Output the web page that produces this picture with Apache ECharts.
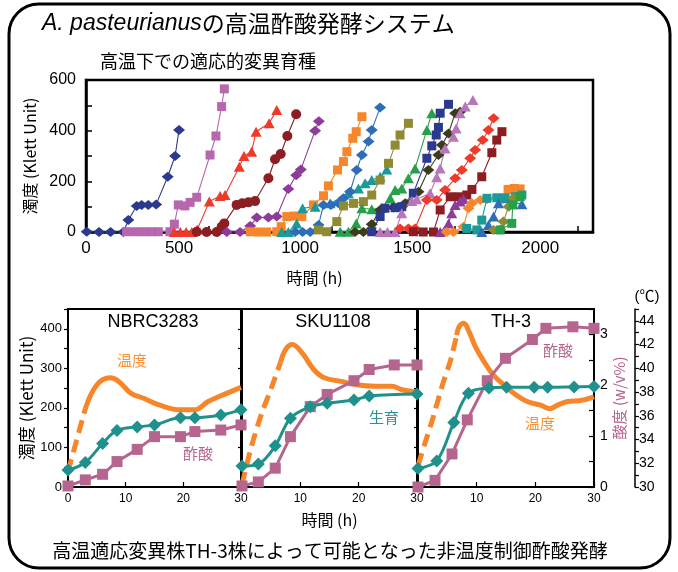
<!DOCTYPE html>
<html><head><meta charset="utf-8">
<script src="https://cdn.jsdelivr.net/npm/echarts/dist/echarts.min.js"></script>
<style>html,body{margin:0;padding:0;background:#fff}#c{width:678px;height:572px}</style>
</head><body><div id="c"></div>
<script>
// ---------- DATA ----------
// top chart: turbidity (Klett Unit) vs time (h) for adaptive mutant breeding lines
const navyDia = [[3,1],[53,0],[100,0],[152,0],[172,47],[206,103],[226,107],[253,107],[285,109],[332,218],[362,300],[378,403]];
const orchidSq = [[165,1],[200,1],[233,1],[265,1],[294,1],[341,1],[359,31],[375,107],[402,103],[423,117],[450,137],[504,304],[528,379],[551,495],[562,565]];
const redTri = [[359,0],[383,0],[407,0],[430,0],[452,10],[501,120],[545,142],[565,146],[623,258],[642,300],[673,317],[691,396],[744,429],[775,482]];
const maroonCirc = [[450,1],[490,0],[531,0],[551,21],[562,34],[612,107],[635,113],[660,117],[687,122],[741,212],[768,287],[791,308],[818,379],[854,465]];
const purpleDia = [[572,0],[626,0],[667,24],[694,57],[741,57],[775,61],[822,170],[854,224],[873,247],[931,400],[946,437]];
const orangeSq = [[667,1],[700,0],[734,0],[775,1],[793,21],[816,61],[845,63],[877,61],[924,107],[965,143],[985,182],[1022,245],[1046,278],[1060,317],[1084,370],[1098,396],[1121,455]];
const tealTri = [[795,0],[822,0],[856,34],[880,94],[931,100],[992,113],[1066,153],[1107,172],[1134,192],[1161,205],[1195,218],[1222,247]];
const blueDia = [[850,0],[880,0],[911,0],[945,28],[965,107],[995,107],[1026,113],[1046,133],[1073,159],[1100,245],[1121,304],[1148,357],[1161,403],[1195,491]];
const oliveSq = [[945,8],[978,1],[1019,41],[1046,103],[1087,113],[1127,120],[1161,146],[1195,205],[1229,271],[1256,343],[1276,383],[1310,429]];
const greenTri = [[1033,1],[1066,1],[1098,34],[1121,94],[1161,90],[1200,95],[1236,133],[1256,166],[1283,172],[1310,212],[1337,251],[1385,403],[1405,469]];
const darkOliveDia = [[1093,0],[1127,0],[1161,31],[1195,87],[1249,97],[1297,113],[1351,159],[1391,245],[1432,304],[1446,343],[1473,389],[1500,469],[1520,475]];
const navySq = [[1161,1],[1195,61],[1215,94],[1256,96],[1283,100],[1330,153],[1385,291],[1405,340],[1423,383],[1432,413],[1439,469],[1473,504]];
const lavenderTri = [[1195,0],[1225,0],[1256,0],[1283,74],[1324,122],[1344,129],[1398,153],[1425,216],[1439,251],[1459,330],[1493,376],[1504,409],[1520,469],[1541,495],[1572,521]];
const redDia = [[1276,14],[1310,14],[1337,14],[1385,126],[1425,126],[1459,166],[1500,212],[1527,245],[1561,291],[1581,324],[1612,363],[1635,403],[1656,449]];
const maroonSq = [[1330,1],[1370,0],[1412,0],[1439,87],[1480,139],[1513,139],[1547,146],[1568,168],[1608,218],[1649,313],[1669,363],[1690,396]];
const purpleTri = [[1439,0],[1473,34],[1486,74],[1500,107],[1520,120],[1534,129]];
const orangeDia = [[1466,0],[1493,0],[1534,21],[1554,94],[1568,113],[1602,126],[1629,129]];
const orangeSq2 = [[1715,168],[1740,172],[1764,170]];
const tealSq = [[1547,14],[1588,8],[1608,47],[1629,133],[1669,135],[1703,135],[1744,139],[1771,146]];
const blueTri = [[1608,0],[1635,28],[1656,61],[1676,113],[1723,120],[1771,110]];
const oliveDia = [[1656,8],[1683,10],[1696,41],[1717,100],[1737,133]];
const greenSq = [[1683,8],[1730,34],[1734,107],[1764,139]];

const topXTicks = [0, 500, 1000, 1500, 2000];
const topYTicks = [0, 200, 400, 600];

// bottom panels: [time h, value]
const panelNames = ['NBRC3283', 'SKU1108', 'TH-3'];
const growthNBRC = [[0,43],[3,62],[6,110],[8.5,143],[12,152],[15,157],[19.5,175],[22,175],[26.5,182],[30,195]];
const acidNBRC = [[0,0.02],[3,0.14],[6,0.25],[8.5,0.5],[12,0.74],[15,0.99],[19.5,0.99],[22,1.09],[26.5,1.12],[30,1.22]];
const tempNBRCramp = [[0,31.3],[3,36.6]];
const tempNBRC = [[3,36.6],[5,38.6],[7.3,39.2],[8.8,38.9],[10.9,37.9],[13,37.5],[15.9,36.9],[19.6,36.5],[21.9,36.5],[24.3,37.2],[26.1,37.6],[30,38.4]];

const growthSKU = [[0,53],[2.8,58],[5.7,104],[8.3,174],[11.7,203],[14.6,212],[19.2,220],[21.8,230],[30,235]];
const acidSKU = [[0,0.02],[2.8,0.1],[5.7,0.37],[8.3,0.99],[11.7,1.58],[14.6,1.82],[19.2,2.09],[21.8,2.31],[26.1,2.4],[30,2.4]];
const tempSKUramp = [[0,30.2],[1.5,33.2],[3.3,36.1],[5,38.3],[6.6,40.5]];
const tempSKU = [[6.6,40.5],[7.5,41.6],[8.6,42.0],[10.3,41.3],[12.3,39.9],[14.1,39.2],[17,38.9],[19.9,38.6],[22.8,38.5],[25.7,38.5],[27.4,38.2],[30,38.0]];

const growthTH3 = [[0,47],[3.2,66],[6.1,163],[8.6,237],[12.1,250],[15.1,252],[19.8,252],[22.1,252],[26.6,253],[30,254]];
const acidTH3 = [[0,0],[2.9,0.13],[5.8,0.65],[8.4,1.32],[11.8,2.09],[14.9,2.53],[19.5,2.9],[21.8,3.12],[26.4,3.15],[30,3.12]];
const tempTH3ramp = [[0,31.8],[1.2,33.7],[2.6,35.9],[4.1,38.5],[5.5,40.6],[6.6,42.8]];
const tempTH3 = [[6.6,42.8],[7.0,43.5],[7.8,43.8],[8.6,43.2],[9.8,41.8],[11.2,40.6],[12.9,39.4],[14.9,38.5],[16.6,37.8],[18.6,37.2],[20.9,36.9],[22.4,36.6],[23.8,36.9],[25.5,37.2],[27.8,37.3],[30,37.6]];

const turbTicks = [0, 100, 200, 300, 400];
const acidTicks = [0, 1, 2, 3];
const tempTicks = [30, 32, 34, 36, 38, 40, 42, 44];

// ---------- STYLE ----------
const FONT = "'Liberation Sans', 'Noto Sans CJK JP', sans-serif";
const JP = "'Noto Sans CJK JP', 'Liberation Sans', sans-serif";
const C = {navy:'#2B3A8F', orchid:'#B767AE', red:'#EE3A2A', maroon:'#8C1D22', purple:'#8E3B9B', orange:'#F7862A',
  teal:'#1C9A98', blue:'#2E6EB8', olive:'#8F8B34', green:'#26A04A', darkOlive:'#3D3B1C', lavender:'#B775BB'};
const SYM = {diamond:['diamond',[12,10]], rect:['rect',[9,9]], triangle:['triangle',[11,10]], circle:['circle',[10,10]]};
const topDefs = [
  [navyDia, C.navy, 'diamond'], [orchidSq, C.orchid, 'rect'], [redTri, C.red, 'triangle'], [maroonCirc, C.maroon, 'circle'],
  [purpleDia, C.purple, 'diamond'], [orangeSq, C.orange, 'rect'], [tealTri, C.teal, 'triangle'], [blueDia, C.blue, 'diamond'],
  [oliveSq, C.olive, 'rect'], [greenTri, C.green, 'triangle'], [darkOliveDia, C.darkOlive, 'diamond'], [navySq, C.navy, 'rect'],
  [lavenderTri, C.lavender, 'triangle'], [redDia, C.red, 'diamond'], [maroonSq, C.maroon, 'rect'], [purpleTri, C.purple, 'triangle'],
  [orangeDia, C.orange, 'diamond'], [orangeSq2, C.orange, 'rect'], [tealSq, C.teal, 'rect'], [blueTri, C.blue, 'triangle'],
  [oliveDia, C.olive, 'diamond'], [greenSq, C.green, 'rect']
];
const GROW = '#1E918D', ACID = '#B5658E', TEMP = '#F7862A';

const series = topDefs.map(([d, col, s]) => ({
  type:'line', xAxisIndex:0, yAxisIndex:0, data:d, symbol:SYM[s][0], symbolSize:SYM[s][1],
  lineStyle:{color:col, width:1.1}, itemStyle:{color:col}, animation:false
}));

const panels = [
  [growthNBRC, acidNBRC, tempNBRCramp, tempNBRC],
  [growthSKU, acidSKU, tempSKUramp, tempSKU],
  [growthTH3, acidTH3, tempTH3ramp, tempTH3]
];
panels.forEach(([g, a, tr, t], i) => {
  const xi = i + 1, yb = 1 + i * 3;
  series.push({type:'line', xAxisIndex:xi, yAxisIndex:yb+2, data:tr, symbol:'none', smooth:0.3,
    lineStyle:{color:TEMP, width:5, type:[13,7]}, animation:false, z:2});
  series.push({type:'line', xAxisIndex:xi, yAxisIndex:yb+2, data:t, symbol:'none', smooth:0.4,
    lineStyle:{color:TEMP, width:5}, animation:false, z:2});
  series.push({type:'line', xAxisIndex:xi, yAxisIndex:yb+1, data:a, symbol:'rect', symbolSize:11,
    lineStyle:{color:ACID, width:3}, itemStyle:{color:ACID}, animation:false, z:3});
  series.push({type:'line', xAxisIndex:xi, yAxisIndex:yb, data:g, symbol:'diamond', symbolSize:[13,13], smooth:0.35,
    lineStyle:{color:GROW, width:3}, itemStyle:{color:GROW}, animation:false, z:4});
});

const gridBox = {show:true, borderColor:'#000', borderWidth:2, backgroundColor:'transparent'};
const grids = [
  Object.assign({left:86, top:80, width:507, height:152}, gridBox, {borderWidth:2.5}),
  Object.assign({left:68, top:309, width:173, height:178}, gridBox),
  Object.assign({left:242, top:309, width:175, height:178}, gridBox),
  Object.assign({left:418, top:309, width:176, height:178}, gridBox)
];

const topLabelShift = {0:0, 500:60, 1000:64, 1500:86, 2000:76};
const xAxes = [{
  gridIndex:0, type:'value', min:0, max:2060, interval:500,
  axisLine:{lineStyle:{color:'#000', width:2.5}}, axisTick:{inside:true, length:6, lineStyle:{color:'#000', width:1.5}},
  splitLine:{show:false},
  axisLabel:{margin:8, color:'#000', fontSize:17, fontFamily:FONT,
    formatter:v => topXTicks.includes(v) ? '{s' + v + '|' + v + '}' : '',
    rich:Object.fromEntries(topXTicks.map(v => ['s' + v, {fontSize:17, fontFamily:FONT, color:'#000', padding:[0, topLabelShift[v], 0, 0]}]))},
  name:'時間 (h)', nameLocation:'middle', nameGap:38,
  nameTextStyle:{fontSize:16, fontFamily:JP, color:'#000', padding:[0, 50, 0, 0]}
}];
for (let i = 0; i < 3; i++) {
  xAxes.push({
    gridIndex:i + 1, type:'value', min:0, max:30, interval:10,
    axisLine:{lineStyle:{color:'#000', width:2}}, axisTick:{inside:true, length:5, lineStyle:{color:'#000', width:1.2}},
    minorTick:{show:false}, splitLine:{show:false},
    axisLabel:{margin:6, color:'#000', fontSize:12, fontFamily:FONT, showMinLabel: i === 0},
    name: i === 1 ? '時間 (h)' : '', nameLocation:'middle', nameGap:25,
    nameTextStyle:{fontSize:16, fontFamily:JP, color:'#000'}
  });
}

const yAxes = [{
  gridIndex:0, type:'value', min:0, max:600, interval:100,
  axisLine:{lineStyle:{color:'#000', width:2.5}}, axisTick:{inside:true, length:6, lineStyle:{color:'#000', width:1.5}},
  splitLine:{show:false},
  axisLabel:{margin:10, color:'#000', fontSize:16, fontFamily:FONT, formatter:v => topYTicks.includes(v) ? String(v) : ''},
  name:'濁度 (Klett Unit)', nameLocation:'middle', nameGap:46,
  nameTextStyle:{fontSize:16, fontFamily:JP, color:'#000'}
}];
for (let i = 0; i < 3; i++) {
  const gi = i + 1;
  yAxes.push({
    gridIndex:gi, type:'value', min:0, max:450, interval:50, position:'left',
    axisLine:{lineStyle:{color:'#000', width:2}}, axisTick:{inside:false, length:4, lineStyle:{color:'#000', width:1.2}},
    splitLine:{show:false},
    axisLabel:{show: i === 0, margin:6, color:'#000', fontSize:13, fontFamily:FONT,
      formatter:v => turbTicks.includes(v) ? String(v) : ''},
    name: i === 0 ? '濁度 (Klett Unit)' : '', nameLocation:'middle', nameGap:33,
    nameTextStyle:{fontSize:17, fontFamily:JP, color:'#000'}
  });
  yAxes.push({
    gridIndex:gi, type:'value', min:0, max:3.5, interval:0.5, position:'right', show: i === 2,
    axisLine:{lineStyle:{color:'#000', width:2}}, axisTick:{inside:true, length:5, lineStyle:{color:'#000', width:1.2}},
    splitLine:{show:false},
    axisLabel:{margin:6, color:'#000', fontSize:14, fontFamily:FONT,
      formatter:v => acidTicks.includes(v) ? String(v) : ''},
    name:'酸度 (w/v%)', nameLocation:'middle', nameGap:17,
    nameTextStyle:{fontSize:15, fontFamily:JP, color:ACID}
  });
  yAxes.push({
    gridIndex:gi, type:'value', min:30, max:45, interval:1, position:'right', offset:41, show: i === 2,
    axisLine:{lineStyle:{color:'#000', width:1.5}}, axisTick:{inside:false, length:4, interval:0, lineStyle:{color:'#000', width:1.2}},
    splitLine:{show:false},
    axisLabel:{margin:4, color:'#000', fontSize:14, fontFamily:FONT, interval:0,
      formatter:v => tempTicks.includes(v) ? String(v) : ''}
  });
}

function txt(x, y, text, size, color, family, align) {
  return {type:'text', x:x, y:y, silent:true, z:100,
    style:{text:text, fontSize:size, fontFamily:family || JP, fill:color || '#000',
      textAlign:align || 'center', textVerticalAlign:'middle', align:align || 'center', verticalAlign:'middle'}};
}

const option = {
  backgroundColor:'#fff',
  animation:false,
  title:{
    left:42, top:12, padding:0,
    text:'{i|A. pasteurianus}{n|の高温酢酸発酵システム}',
    textStyle:{fontWeight:'normal', rich:{
      i:{fontSize:23, fontStyle:'italic', fontWeight:'normal', fontFamily:FONT, color:'#000'},
      n:{fontSize:23, fontWeight:'normal', fontFamily:JP, color:'#000'}
    }}
  },
  grid:grids, xAxis:xAxes, yAxis:yAxes, series:series,
  graphic:[
    {type:'rect', shape:{x:9, y:4, width:661, height:564, r:30}, style:{fill:'none', stroke:'#000', lineWidth:3}, silent:true, z:0},
    txt(100, 61, '高温下での適応的変異育種', 18, '#000', JP, 'left'),
    txt(153, 322, panelNames[0], 18, '#000', FONT),
    txt(333, 322, panelNames[1], 18, '#000', FONT),
    txt(511, 322, panelNames[2], 18, '#000', FONT),
    txt(132, 360, '温度', 15, '#F7923A'),
    txt(198, 453, '酢酸', 15, ACID),
    txt(384, 417, '生育', 15, '#2E8F92'),
    txt(558, 350, '酢酸', 15, ACID),
    txt(540, 423, '温度', 15, '#F7923A'),
    txt(647, 297, '(℃)', 15, '#000', FONT),
    txt(330, 551, '高温適応変異株TH-3株によって可能となった非温度制御酢酸発酵', 19)
  ]
};

const chart = echarts.init(document.getElementById('c'), null, {renderer:'canvas'});
chart.setOption(option);
</script></body></html>
